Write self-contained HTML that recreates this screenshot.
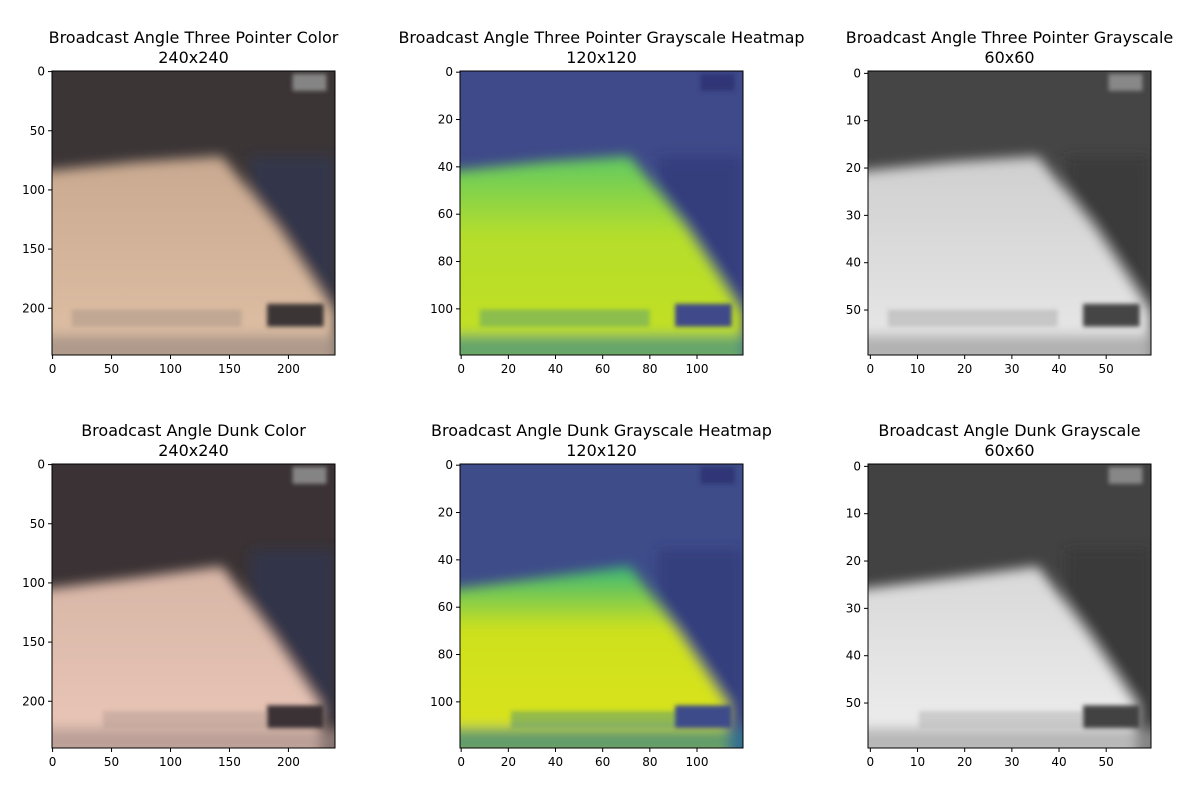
<!DOCTYPE html>
<html><head><meta charset="utf-8"><style>
body{margin:0;background:#fff;font-family:"Liberation Sans","DejaVu Sans",sans-serif}
svg text{font-family:"DejaVu Sans","Liberation Sans",sans-serif}
</style></head><body>
<svg id="fig" width="1200" height="800" xmlns="http://www.w3.org/2000/svg">
<defs>
<filter id="blur" x="-10%" y="-10%" width="120%" height="120%"><feGaussianBlur stdDeviation="6"/></filter>
<filter id="blur2"><feGaussianBlur stdDeviation="2"/></filter>
<linearGradient id="g1" x1="0" y1="0" x2="0" y2="1"><stop offset="0" stop-color="#5ec962"/><stop offset="0.35" stop-color="#b5de2b"/><stop offset="1" stop-color="#c8e020"/></linearGradient>
<linearGradient id="g4" x1="0" y1="0" x2="0" y2="1"><stop offset="0" stop-color="#35b779"/><stop offset="0.3" stop-color="#cde11d"/><stop offset="1" stop-color="#dfe318"/></linearGradient>
<linearGradient id="g0" x1="0" y1="0" x2="0" y2="1"><stop offset="0" stop-color="#c9a990"/><stop offset="1" stop-color="#e2c3a8"/></linearGradient>
<linearGradient id="g3" x1="0" y1="0" x2="0" y2="1"><stop offset="0" stop-color="#d8b6a6"/><stop offset="1" stop-color="#ecc9bb"/></linearGradient>
<linearGradient id="g2" x1="0" y1="0" x2="0" y2="1"><stop offset="0" stop-color="#cfcfcf"/><stop offset="1" stop-color="#ececec"/></linearGradient>
<linearGradient id="g5" x1="0" y1="0" x2="0" y2="1"><stop offset="0" stop-color="#d8d8d8"/><stop offset="1" stop-color="#f2f2f2"/></linearGradient>
</defs>
</svg>
<script>
const panelTitles=["Broadcast Angle Three Pointer Color","Broadcast Angle Three Pointer Grayscale Heatmap","Broadcast Angle Three Pointer Grayscale","Broadcast Angle Dunk Color","Broadcast Angle Dunk Grayscale Heatmap","Broadcast Angle Dunk Grayscale"];
const panelSizes=[240,120,60,240,120,60];
const tickValues240=[0,50,100,150,200];
const tickValues120=[0,20,40,60,80,100];
const tickValues60=[0,10,20,30,40,50];
const panelLeft=[52,460,868,52,460,868];
const panelTop=[71,71,71,464,464,464];
const W=283,H=284;
const palettes=[["#3b3536","url(#g0)","#9a8a80","#2e3a5c"],["#3f4a8a","url(#g1)","#3d8b8a","#2a2f6f"],["#454545","url(#g2)","#9a9a9a","#333"],["#3a3234","url(#g3)","#a8908a","#2e3a5c"],["#3e4c8a","url(#g4)","#2f7f8e","#2a2f6f"],["#424242","url(#g5)","#a0a0a0","#333"]];
const svg=document.getElementById('fig');
const NS="http://www.w3.org/2000/svg";
function el(tag,attrs,parent){const e=document.createElementNS(NS,tag);for(const k in attrs)e.setAttribute(k,attrs[k]);(parent||svg).appendChild(e);return e;}
panelTitles.forEach((t,i)=>{
  const x0=panelLeft[i],y0=panelTop[i],n=panelSizes[i],p=palettes[i];
  const g=el('g',{});
  
  
  const clipId='c'+i;
  const cp=el('clipPath',{id:clipId},g);el('rect',{x:x0,y:y0,width:W,height:H},cp);
  const img=el('g',{'clip-path':'url(#'+clipId+')'},g);
  
  
  el('rect',{x:x0,y:y0,width:W,height:H,fill:p[0]},img);
  const X=f=>x0+f*W,Y=f=>y0+f*H;
  const dunk=i>=3;
  const pts=dunk?[[-0.1,0.45],[0.3,0.4],[0.6,0.36],[0.78,0.6],[0.95,0.85],[0.95,1.1],[-0.1,1.1]]:[[-0.1,0.36],[0.3,0.32],[0.6,0.3],[0.8,0.55],[1,0.85],[1,1.1],[-0.1,1.1]];
  const bl=el('g',{filter:'url(#blur)'},img);
  el('rect',{x:X(0.7),y:Y(0.3),width:W*0.3,height:H*0.6,fill:p[3],opacity:0.5},bl);
  el('polygon',{points:pts.map(q=>X(q[0])+','+Y(q[1])).join(' '),fill:p[1]},bl);
  el('rect',{x:X(-0.05),y:Y(0.93),width:W*1.1,height:H*0.1,fill:p[2],opacity:0.7},bl);
  const bb=el('g',{filter:'url(#blur2)'},img);
  const by=dunk?0.87:0.84;
  el('rect',{x:X(dunk?0.18:0.07),y:Y(by),width:W*0.6,height:H*0.06,fill:p[2],opacity:0.4},bb);
  el('rect',{x:X(0.76),y:Y(by-0.02),width:W*0.2,height:H*0.08,fill:p[0]},bb);
  el('rect',{x:X(0.85),y:Y(0.01),width:W*0.12,height:H*0.06,fill:i%3==1?p[3]:'#999',opacity:0.8},bb);
  el('rect',{x:x0,y:y0,width:W,height:H,fill:'none',stroke:'#000','stroke-width':1},g);
  const ticks=n==240?tickValues240:n==120?tickValues120:tickValues60;
  const s=W/n;
  ticks.forEach(v=>{
    const px=x0+(v+0.5)*s, py=y0+(v+0.5)*(H/n);
    el('line',{x1:px,x2:px,y1:y0+H,y2:y0+H+4,stroke:'#000'},g);
    const tx=el('text',{x:px,y:y0+H+18,'font-size':12,'text-anchor':'middle'},g);tx.textContent=v;
    el('line',{x1:x0-4,x2:x0,y1:py,y2:py,stroke:'#000'},g);
    const ty=el('text',{x:x0-7,y:py+4,'font-size':12,'text-anchor':'end'},g);ty.textContent=v;
  });
  const t1=el('text',{x:x0+W/2,y:y0-28,'font-size':16,'text-anchor':'middle'},g);t1.textContent=t;
  
  
  const t2=el('text',{x:x0+W/2,y:y0-8,'font-size':16,'text-anchor':'middle'},g);t2.textContent=n+'x'+n;
  
  
});
</script>
</body></html>
